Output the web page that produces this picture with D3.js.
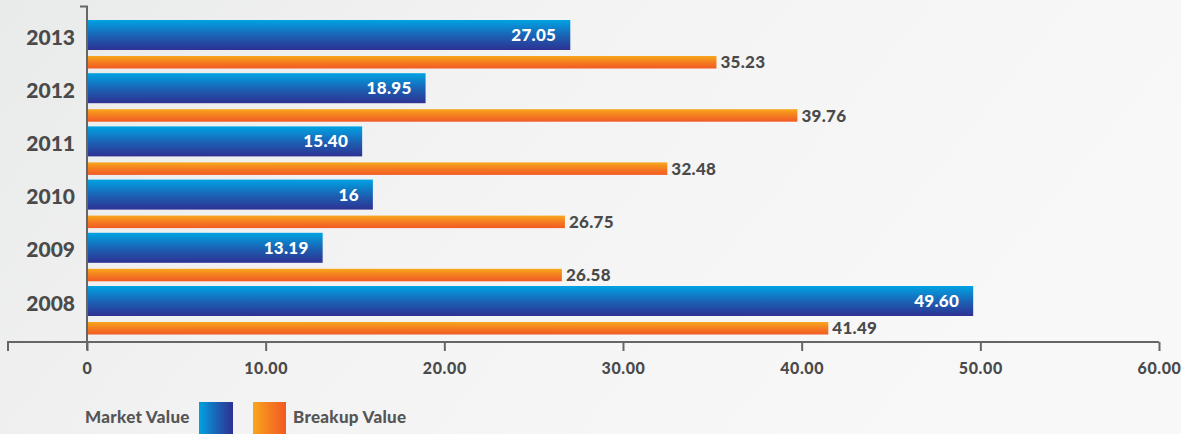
<!DOCTYPE html>
<html>
<head>
<meta charset="utf-8">
<script src="https://cdn.jsdelivr.net/npm/d3@7"></script>
<style>
  html, body { margin: 0; padding: 0; overflow: hidden; }
  svg { display: block; }
  text { font-family: Lato, "Open Sans", sans-serif; font-weight: 900; }
</style>
</head>
<body>
<svg id="chart" width="1181" height="434"></svg>
<script>
// Share value per year (top to bottom)
const years = ["2013", "2012", "2011", "2010", "2009", "2008"];
const marketValue = [27.05, 18.95, 15.40, 16, 13.19, 49.60];
const breakupValue = [35.23, 39.76, 32.48, 26.75, 26.58, 41.49];
const marketLabels = ["27.05", "18.95", "15.40", "16", "13.19", "49.60"];
const breakupLabels = ["35.23", "39.76", "32.48", "26.75", "26.58", "41.49"];
const xTicks = [0, 10, 20, 30, 40, 50, 60];
const legendLabels = ["Market Value", "Breakup Value"];

const W = 1181, H = 434;
const svg = d3.select("#chart");
const defs = svg.append("defs");

// background
const bg = defs.append("linearGradient").attr("id", "bg")
  .attr("x1", "0").attr("y1", "0").attr("x2", "1").attr("y2", "0.3");
bg.append("stop").attr("offset", "0").attr("stop-color", "#e9eaea");
bg.append("stop").attr("offset", "0.45").attr("stop-color", "#f3f3f3");
bg.append("stop").attr("offset", "1").attr("stop-color", "#f8f8f8");
svg.append("rect").attr("width", W).attr("height", H).attr("fill", "url(#bg)");

function grad(id, c1, c2, vertical) {
  const g = defs.append("linearGradient").attr("id", id)
    .attr("x1", "0").attr("y1", "0")
    .attr("x2", vertical ? "0" : "1").attr("y2", vertical ? "1" : "0");
  g.append("stop").attr("offset", "0").attr("stop-color", c1);
  g.append("stop").attr("offset", "0.55").attr("stop-color", d3.interpolateRgb(c1, c2)(0.6));
  g.append("stop").attr("offset", "1").attr("stop-color", c2);
}
grad("blueV", "#00a3e3", "#2e3192", true);
grad("orangeV", "#f8a71c", "#f15a24", true);
grad("blueH", "#00a3e3", "#2e3192", false);
grad("orangeH", "#f8a71c", "#f15a24", false);

const x = d3.scaleLinear().domain([0, 60]).range([87, 1159]);
const y = d3.scaleBand().domain(years).range([20, 339.2]).paddingInner(0).paddingOuter(0);
const blueH = 30, orangeOff = 36, orangeH = 12.5;

const textColor = "#4a4a4a";
const axisColor = "#666";

const g = svg.append("g");
const rows = g.selectAll("g.row").data(years).join("g").attr("class", "row");

// market value bars
rows.append("rect")
  .attr("x", x(0))
  .attr("y", d => y(d))
  .attr("width", (d, i) => x(marketValue[i]) - x(0))
  .attr("height", blueH)
  .attr("fill", "url(#blueV)");

// breakup value bars
rows.append("rect")
  .attr("x", x(0))
  .attr("y", d => y(d) + orangeOff)
  .attr("width", (d, i) => x(breakupValue[i]) - x(0))
  .attr("height", orangeH)
  .attr("fill", "url(#orangeV)");

// labels inside market bars
rows.append("text")
  .attr("x", (d, i) => x(marketValue[i]) - 14)
  .attr("y", d => y(d) + blueH / 2)
  .attr("dy", "0.35em")
  .attr("text-anchor", "end")
  .attr("fill", "#fff")
  .attr("font-size", 17)
  .attr("letter-spacing", 0.3)
  .text((d, i) => marketLabels[i]);

// labels after breakup bars
rows.append("text")
  .attr("x", (d, i) => x(breakupValue[i]) + 4)
  .attr("y", d => y(d) + orangeOff + orangeH / 2)
  .attr("dy", "0.36em")
  .attr("fill", textColor)
  .attr("font-size", 17)
  .attr("letter-spacing", 0.3)
  .text((d, i) => breakupLabels[i]);

// year labels
rows.append("text")
  .attr("x", 75)
  .attr("y", d => y(d) + 17)
  .attr("dy", "0.36em")
  .attr("text-anchor", "end")
  .attr("fill", textColor)
  .attr("font-size", 21)
  .text(d => d);

// vertical axis line
svg.append("path")
  .attr("d", `M80,6.5H${x(0)}V350`)
  .attr("fill", "none").attr("stroke", axisColor).attr("stroke-width", 2);

// horizontal axis
const xAxis = d3.axisBottom(x)
  .tickValues(xTicks)
  .tickSize(9)
  .tickPadding(12)
  .tickFormat(d => d === 0 ? "0" : d3.format(".2f")(d));
const ax = svg.append("g").attr("transform", "translate(0,342)").call(xAxis);
ax.select(".domain").remove();
ax.selectAll(".tick line").attr("stroke", axisColor).attr("stroke-width", 2);
ax.selectAll(".tick text").attr("fill", textColor).attr("font-size", 16)
  .attr("letter-spacing", 0.6)
  .attr("font-family", "Lato, 'Open Sans', sans-serif").attr("font-weight", 900);
ax.append("path")
  .attr("d", `M8,9V0H${x(60)}`)
  .attr("fill", "none").attr("stroke", axisColor).attr("stroke-width", 2);

// legend
const lg = svg.append("g");
lg.append("text").attr("x", 85).attr("y", 423).attr("fill", "#555").attr("font-size", 17)
  .attr("letter-spacing", 0.3)
  .text(legendLabels[0]);
lg.append("rect").attr("x", 199).attr("y", 402).attr("width", 34).attr("height", 34)
  .attr("fill", "url(#blueH)");
lg.append("rect").attr("x", 253).attr("y", 402).attr("width", 33).attr("height", 34)
  .attr("fill", "url(#orangeH)");
lg.append("text").attr("x", 293).attr("y", 423).attr("fill", "#555").attr("font-size", 17)
  .attr("letter-spacing", 0.3)
  .text(legendLabels[1]);
</script>
</body>
</html>
